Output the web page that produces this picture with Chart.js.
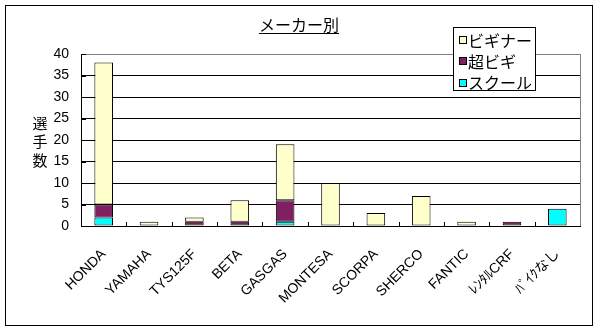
<!DOCTYPE html>
<html lang="ja">
<head>
<meta charset="UTF-8">
<title>メーカー別</title>
<script src="https://cdn.jsdelivr.net/npm/chart.js"></script>
<style>
  body { margin: 0; background: #fff; }
  canvas { display: block; }
</style>
</head>
<body>
<canvas id="makerChart" width="599" height="331"></canvas>
<script>
// data
var makers = ['HONDA', 'YAMAHA', 'TYS125F', 'BETA', 'GASGAS', 'MONTESA', 'SCORPA', 'SHERCO', 'FANTIC', 'ﾚﾝﾀﾙCRF', 'ﾊﾞｲｸなし'];
var school   = [2, 0, 0, 0, 1, 0, 0, 0, 0, 0, 4];
var superBeg = [3, 0, 1, 1, 5, 0, 0, 0, 0, 1, 0];
var beginner = [33, 1, 1, 5, 13, 10, 3, 7, 1, 0, 0];
var yTicks = [0, 5, 10, 15, 20, 25, 30, 35, 40];

var chartTitle = 'メーカー別';
var yTitle = ['選', '手', '数'];
var jpFont = '"Noto Sans CJK JP", "Liberation Sans", sans-serif';
var tickFont = '"Liberation Sans", "Noto Sans CJK JP", sans-serif';

// zero values get no bar at all (otherwise a flat outline is drawn)
function noZero(arr) {
    return arr.map(function (v) { return v === 0 ? null : v; });
}

// frame, title, legend, axis title and inside tick marks
var decor = {
    id: 'decor',
    afterDraw: function (chart) {
        var ctx = chart.ctx;
        var area = chart.chartArea;
        var x = chart.scales.x, y = chart.scales.y;
        ctx.save();
        ctx.lineWidth = 1;

        // right edge of plot area
        ctx.strokeStyle = '#808080';
        ctx.beginPath();
        ctx.moveTo(Math.round(area.right) + 0.5, area.top);
        ctx.lineTo(Math.round(area.right) + 0.5, area.bottom);
        ctx.stroke();

        // inside tick marks
        ctx.strokeStyle = '#000';
        ctx.beginPath();
        for (var i = 1; i < makers.length; i++) {
            var px = Math.round(x.getPixelForValue(i - 0.5)) + 0.5;
            ctx.moveTo(px, area.bottom);
            ctx.lineTo(px, area.bottom - 4);
        }
        yTicks.forEach(function (v) {
            var py = Math.round(y.getPixelForValue(v)) + 0.5;
            ctx.moveTo(area.left, py);
            ctx.lineTo(area.left + 5, py);
        });
        ctx.stroke();

        // outer border
        ctx.strokeRect(5.5, 5.5, 587, 320);

        // title with underline
        ctx.fillStyle = '#000';
        ctx.font = '16px ' + jpFont;
        ctx.textAlign = 'center';
        ctx.textBaseline = 'alphabetic';
        ctx.fillText(chartTitle, 299, 31);
        var tw = ctx.measureText(chartTitle).width;
        ctx.beginPath();
        ctx.moveTo(299 - tw / 2, 33.5);
        ctx.lineTo(299 + tw / 2, 33.5);
        ctx.stroke();

        // y axis title, stacked characters
        ctx.font = '15px ' + jpFont;
        ctx.textBaseline = 'middle';
        yTitle.forEach(function (ch, k) {
            ctx.fillText(ch, 40, 123 + k * 18.5);
        });

        // legend box
        ctx.fillStyle = '#fff';
        ctx.fillRect(453.5, 27.5, 82, 63);
        ctx.strokeRect(453.5, 27.5, 82, 63);
        ctx.font = '16px ' + jpFont;
        ctx.textAlign = 'left';
        var sets = chart.data.datasets.slice().reverse();
        sets.forEach(function (ds, k) {
            var cy = 39.5 + k * 21.3;
            ctx.fillStyle = ds.backgroundColor;
            ctx.fillRect(459.5, Math.round(cy - 3.5) + 0.5, 7, 7);
            ctx.strokeStyle = '#000';
            ctx.strokeRect(459.5, Math.round(cy - 3.5) + 0.5, 7, 7);
            ctx.fillStyle = '#000';
            ctx.fillText(ds.label, 468, cy + 1);
        });
        ctx.restore();
    }
};

var ctx = document.getElementById('makerChart').getContext('2d');
var makerChart = new Chart(ctx, {
    type: 'bar',
    data: {
        labels: makers,
        datasets: [{
            label: 'スクール',
            data: noZero(school),
            backgroundColor: '#00FFFF'
        }, {
            label: '超ビギ',
            data: noZero(superBeg),
            backgroundColor: '#802060'
        }, {
            label: 'ビギナー',
            data: noZero(beginner),
            backgroundColor: '#FFFFCC'
        }]
    },
    options: {
        responsive: false,
        animation: false,
        devicePixelRatio: 1,
        layout: { padding: { left: 0, right: 19, top: 54, bottom: 0 } },
        datasets: {
            bar: {
                borderColor: '#000',
                borderWidth: 1,
                borderSkipped: false,
                categoryPercentage: 1,
                barPercentage: 0.41
            }
        },
        plugins: {
            legend: { display: false },
            title: { display: false },
            tooltip: { enabled: false }
        },
        scales: {
            x: {
                stacked: true,
                grid: { display: false, drawTicks: false },
                border: { color: '#000', width: 1 },
                ticks: {
                    color: '#000',
                    font: { family: tickFont, size: 14 },
                    maxRotation: 45,
                    minRotation: 45,
                    padding: 20,
                    autoSkip: false
                },
                afterFit: function (scale) { scale.height = 105; }
            },
            y: {
                stacked: true,
                min: 0,
                max: 40,
                afterBuildTicks: function (scale) {
                    scale.ticks = yTicks.map(function (v) { return { value: v }; });
                },
                grid: {
                    drawTicks: false,
                    color: function (c) { return c.tick && c.tick.value === 40 ? '#808080' : '#000'; }
                },
                border: { color: '#000', width: 1 },
                ticks: {
                    color: '#000',
                    font: { family: tickFont, size: 14 },
                    padding: 12
                },
                afterFit: function (scale) { scale.width = 81; }
            }
        }
    },
    plugins: [decor]
});
</script>
</body>
</html>
